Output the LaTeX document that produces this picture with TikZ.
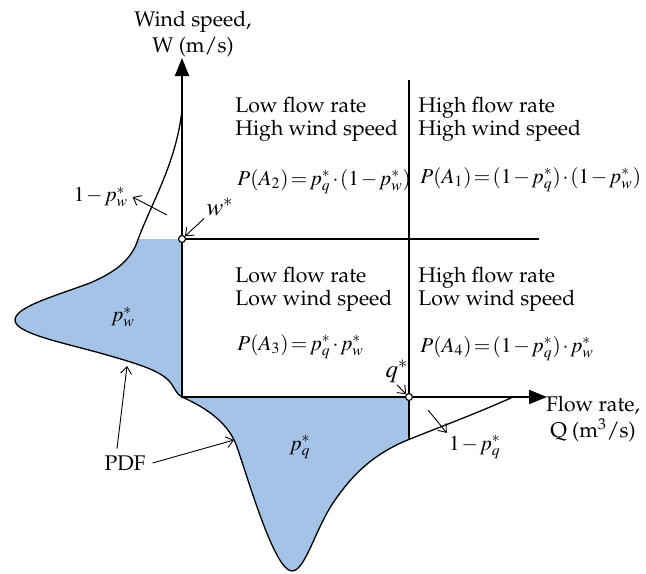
\documentclass[tikz,border=0pt]{standalone}
\usepackage[T1]{fontenc}
\usepackage{mathptmx}
\renewcommand{\rmdefault}{ppl}
\usetikzlibrary{arrows.meta}
\definecolor{pdfblue}{RGB}{164,195,230}
\thickmuskip=2mu plus 1mu
\medmuskip=1.5mu plus 1mu
\tikzset{
	axis/.style={line width=1pt, {Triangle[length=9pt,width=7pt]}-{Triangle[length=9pt,width=7pt]}},
	gridline/.style={line width=0.65pt},
	pdfcurve/.style={line width=0.65pt},
	pointer/.style={line width=0.45pt, -{Straight Barb[length=3.5pt,width=5.5pt]}},
	region/.style={align=left, anchor=north west, inner sep=0pt, font=\fontsize{10.6}{11.2}\selectfont},
	formula/.style={anchor=base west, inner sep=0pt, font=\fontsize{10.6}{12}\selectfont},
	threshold/.style={inner sep=1pt, font=\fontsize{12.5}{14}\selectfont},
	opendot/.style={circle, draw, fill=white, inner sep=0pt, minimum size=3.4pt, line width=0.5pt}
}
\begin{document}
\begin{tikzpicture}[x=0.5pt,y=-0.5pt,font=\fontsize{10.6}{13}\selectfont]
	\useasboundingbox (0,0) rectangle (646,573);
	% fixed points
	\coordinate (O) at (182,397);
	\coordinate (Wtip) at (182,58);
	\coordinate (Qtip) at (547,397);
	\coordinate (wend) at (539,239);
	\coordinate (qtop) at (409,80);
	\coordinate (qbot) at (409,439);
	% shaded areas under the two pdf curves
	\begin{scope}
		\clip (0,239) rectangle (182,397);
		\fill[pdfblue] (182,110) .. controls (176,165) and (150,205) .. (136,245)
			.. controls (128,262) and (115,272) .. (90,283)
			.. controls (55,296) and (15,307) .. (15,320)
			.. controls (15,333) and (60,342) .. (100,353)
			.. controls (135,363) and (160,370) .. (170,382)
			.. controls (175,388) and (176,394) .. (182,397) -- cycle;
	\end{scope}
	\begin{scope}
		\clip (182,397) rectangle (409,580);
		\fill[pdfblue] (182,397) .. controls (200,405) and (228,420) .. (237,447)
			.. controls (250,485) and (275,571) .. (292,571)
			.. controls (305,571) and (315,530) .. (333,503)
			.. controls (350,478) and (370,455) .. (410,439)
			.. controls (440,427) and (480,412) .. (513,397) -- cycle;
	\end{scope}
	\draw[pdfcurve] (182,110) .. controls (176,165) and (150,205) .. (136,245)
		.. controls (128,262) and (115,272) .. (90,283)
		.. controls (55,296) and (15,307) .. (15,320)
		.. controls (15,333) and (60,342) .. (100,353)
		.. controls (135,363) and (160,370) .. (170,382)
		.. controls (175,388) and (176,394) .. (182,397);
	\draw[pdfcurve] (182,397) .. controls (200,405) and (228,420) .. (237,447)
		.. controls (250,485) and (275,571) .. (292,571)
		.. controls (305,571) and (315,530) .. (333,503)
		.. controls (350,478) and (370,455) .. (410,439)
		.. controls (440,427) and (480,412) .. (513,397);
	% thresholds
	\node[opendot] (wstar) at (182,239) {};
	\node[opendot] (qstar) at (409,397) {};
	\draw[gridline] (wstar.center) -- (wend);
	\draw[gridline] (qtop) -- (qstar.center) -- (qbot);
	% axes
	\draw[axis] (Wtip) -- (O) -- (Qtip);
	\node[opendot] at (wstar) {};
	\node[opendot] at (qstar) {};
	\node[align=center, inner sep=0pt] (wlabel) at (193,34) {Wind speed,\\W (m/s)};
	\node[align=center, inner sep=0pt] (qlabel) at (593,419) {Flow rate,\\Q (m\textsuperscript{3}/s)};
	% quadrants
	\node[region] (A2) at (235,97) {Low flow rate\\High wind speed};
	\node[region] (A1) at (418,97) {High flow rate\\High wind speed};
	\node[region] (A3) at (235,267) {Low flow rate\\Low wind speed};
	\node[region] (A4) at (418,267) {High flow rate\\Low wind speed};
	\node[formula] (PA2) at (237,185) {$P(A_2)= p_q^*\cdot(1-p_w^*)$};
	\node[formula] (PA1) at (420,183) {$P(A_1)= (1-p_q^*)\cdot(1-p_w^*)$};
	\node[formula] (PA3) at (237,350) {$P(A_3)= p_q^*\cdot p_w^*$};
	\node[formula] (PA4) at (420,352) {$P(A_4)= (1-p_q^*)\cdot p_w^*$};
	% probabilities and pointers
	\node (pw) at (123,317) {$p_w^*$};
	\node (pq) at (300,447) {$p_q^*$};
	\node[inner sep=2pt] (pwc) at (101,197) {$1-p_w^*$};
	\coordinate (pwtail) at (167,215);
	\draw[pointer] (pwtail) -- (pwc.east);
	\node[inner sep=1pt] (pqc) at (475,447) {$1-p_q^*$};
	\coordinate (pqtail) at (428,410);
	\draw[pointer] (pqtail) -- (pqc.north west);
	\node[threshold] (wlbl) at (220,207) {$w^*$};
	\draw[pointer] (wlbl.south west) -- (wstar);
	\node[threshold] (qlbl) at (397,371) {$q^*$};
	\draw[pointer] (qlbl.south) -- (qstar);
	\node (pdf) at (125,463) {PDF};
	\coordinate (pdfw) at (127,366);
	\coordinate (pdfq) at (234,440);
	\draw[pointer] ([xshift=-4pt]pdf.north) -- (pdfw);
	\draw[pointer] (pdf.east) -- (pdfq);
\end{tikzpicture}
\end{document}
